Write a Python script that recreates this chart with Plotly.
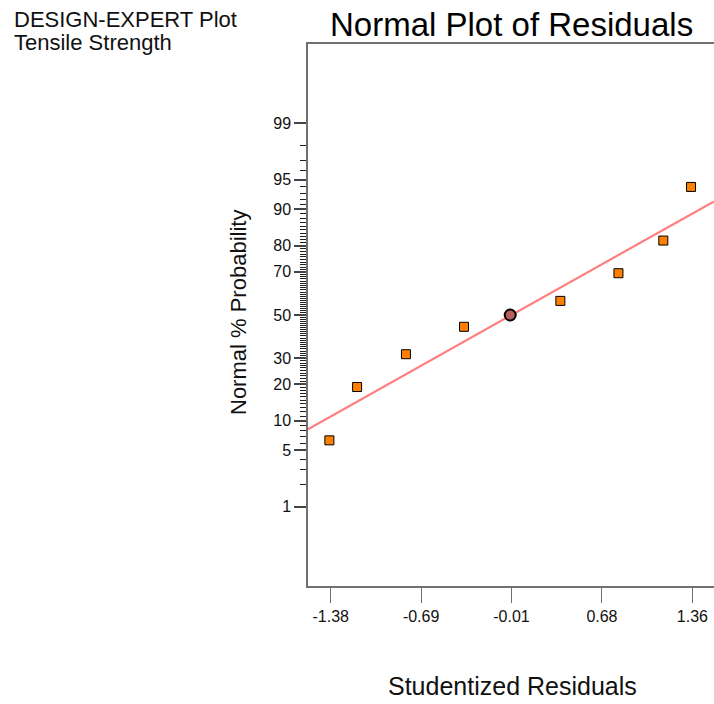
import plotly.graph_objects as go
from statistics import NormalDist

# ---------------- data ----------------
residuals = [-1.39, -1.18, -0.81, -0.37, 0.36, 0.80, 1.14, 1.35]
probabilities = [6.4, 19.1, 31.7, 44.3, 56.8, 69.4, 81.7, 94.0]
highlight_residual = [-0.02]
highlight_probability = [50.0]

fit_mean = -0.01
fit_sd = 1.112

x_tick_values = [-1.38, -0.695, -0.01, 0.675, 1.36]
x_tick_labels = ["-1.38", "-0.69", "-0.01", "0.68", "1.36"]
y_major_probs = [1, 5, 10, 20, 30, 50, 70, 80, 90, 95, 99]
y_minor_probs = [2, 3, 4, 6, 7, 8, 9] + list(range(11, 20)) + list(range(21, 30)) + \
    list(range(31, 50)) + list(range(51, 70)) + list(range(71, 80)) + \
    list(range(81, 90)) + [91, 92, 93, 94, 96, 97, 98]

x_range = [-1.552, 1.524]
prob_range = [0.05, 99.95]

# ---------------- helpers ----------------
nd = NormalDist()
def z(p):
    return nd.inv_cdf(p / 100.0)

W, H = 714, 704
L, R, T, B = 308, 0, 44, 118
PW, PH = W - L - R, H - T - B

def px(x):
    return (x - L) / PW
def py(y):
    return 1 - (y - T) / PH

FONT = "Liberation Sans, Arial, sans-serif"

fig = go.Figure()

# fitted normal line
line_x = x_range
line_z = [(v - fit_mean) / fit_sd for v in line_x]
fig.add_trace(go.Scatter(
    x=line_x, y=line_z, mode="lines",
    line=dict(color="#FF7F7F", width=2.2),
    hoverinfo="skip", showlegend=False))

# residual points
fig.add_trace(go.Scatter(
    x=residuals, y=[z(p) for p in probabilities], mode="markers",
    marker=dict(symbol="square", size=9, color="#FF8000",
                line=dict(color="#000000", width=1)),
    showlegend=False))

fig.add_trace(go.Scatter(
    x=highlight_residual, y=[z(p) for p in highlight_probability], mode="markers",
    marker=dict(symbol="circle", size=11, color="#B86060",
                line=dict(color="#000000", width=2)),
    showlegend=False))

fig.update_xaxes(
    range=x_range, showgrid=False, zeroline=False,
    showline=True, mirror=True, linecolor="#707070", linewidth=1.5,
    ticks="outside", ticklen=15, tickwidth=1, tickcolor="#707070",
    tickmode="array", tickvals=x_tick_values, ticktext=x_tick_labels,
    tickfont=dict(family=FONT, size=16, color="#111111"),
)
fig.update_yaxes(
    range=[z(prob_range[0]), z(prob_range[1])], showgrid=False, zeroline=False,
    showline=True, linecolor="#707070", linewidth=1.5,
    ticks="outside", ticklen=12, tickwidth=1.5, tickcolor="#444444",
    tickmode="array", tickvals=[z(p) for p in y_major_probs],
    ticktext=[str(p) for p in y_major_probs],
    tickfont=dict(family=FONT, size=16, color="#111111"),
    minor=dict(tickmode="array", tickvals=[z(p) for p in y_minor_probs],
               ticks="outside", ticklen=6, tickwidth=1, tickcolor="#222222",
               showgrid=False),
)

annotations = [
    dict(text="DESIGN-EXPERT Plot", x=px(12), y=py(19.5), xanchor="left", yanchor="middle",
         font=dict(family=FONT, size=22, color="#111111")),
    dict(text="Tensile Strength", x=px(12), y=py(42.5), xanchor="left", yanchor="middle",
         font=dict(family=FONT, size=22, color="#111111")),
    dict(text="Normal Plot of Residuals", x=px(511), y=py(25), xanchor="center", yanchor="middle",
         font=dict(family=FONT, size=33, color="#000000")),
    dict(text="Normal % Probability", x=px(238), y=py(313), xanchor="center", yanchor="middle",
         textangle=-90, font=dict(family=FONT, size=22, color="#111111")),
    dict(text="Studentized Residuals", x=px(512), y=py(686), xanchor="center", yanchor="middle",
         font=dict(family=FONT, size=25, color="#111111")),
]
for a in annotations:
    a.update(xref="paper", yref="paper", showarrow=False)

fig.update_layout(
    width=W, height=H, margin=dict(l=L, r=R, t=T, b=B, pad=0),
    plot_bgcolor="white", paper_bgcolor="white",
    annotations=annotations, showlegend=False,
)

fig.write_html("out.html")
